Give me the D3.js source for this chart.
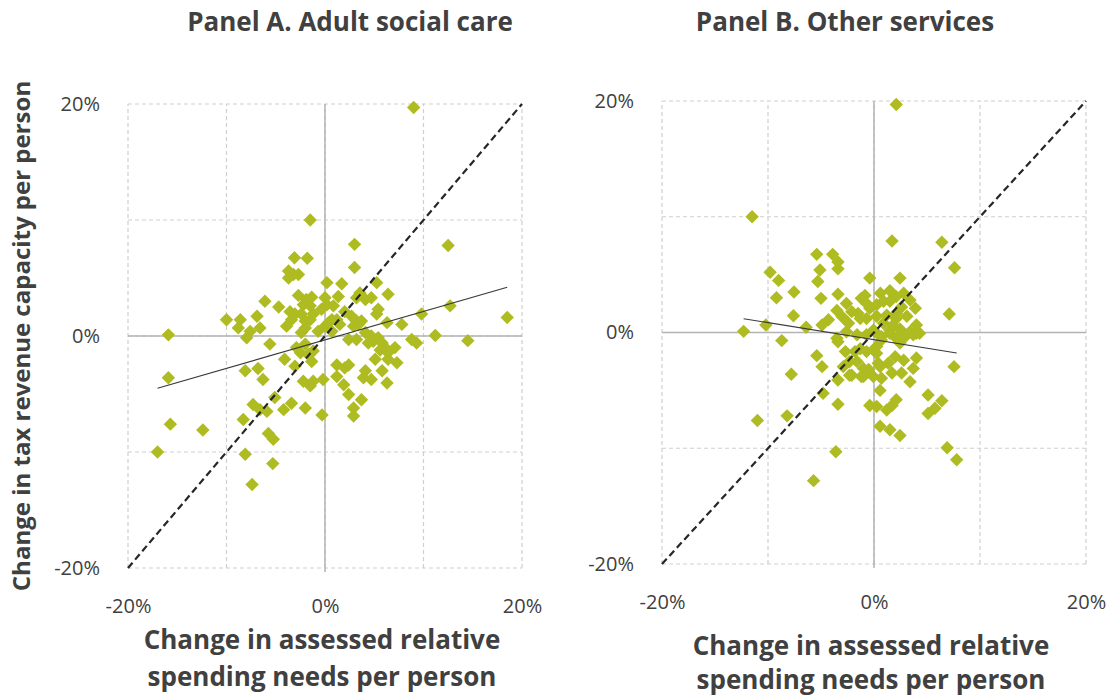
<!DOCTYPE html>
<html>
<head>
<meta charset="utf-8">
<script src="https://cdn.jsdelivr.net/npm/d3@7"></script>
<style>
  body { margin: 0; background: #ffffff; }
  text { font-family: "Open Sans", "Noto Sans", sans-serif; fill: #404040; }
</style>
</head>
<body>
<svg id="chart" width="1114" height="696"></svg>
<script>
// Titles and axis text
const panelTitles = ["Panel A. Adult social care", "Panel B. Other services"];
const xTitleLines = ["Change in assessed relative", "spending needs per person"];
const yTitle = "Change in tax revenue capacity per person";
const gridTicks = [-20, -10, 0, 10, 20];
const labelTicks = [-20, 0, 20];

// [change in assessed relative spending needs %, change in tax revenue capacity %]
const adultCare = [
  [9.0, 19.7], [-1.5, 10.0], [3.0, 7.9], [12.5, 7.8], [-3.1, 6.75], [-1.8, 6.7],
  [3.0, 5.9], [-3.7, 5.6], [-3.2, 5.3], [-2.7, 5.3], [-3.7, 5.0], [0.2, 4.6],
  [1.7, 4.5], [5.25, 4.6], [1.35, 3.4], [3.55, 3.7], [3.2, 3.3], [4.1, 3.15],
  [4.7, 3.3], [6.4, 3.6], [-6.1, 3.0], [-2.7, 3.5], [-1.9, 3.15], [-1.35, 3.35],
  [-2.2, 2.7], [-1.5, 2.6], [0.0, 3.3], [0.2, 2.7], [0.85, 2.6], [-0.35, 2.3],
  [-4.7, 2.5], [2.0, 2.1], [2.7, 1.7], [3.2, 1.3], [3.7, 1.3], [5.4, 2.3],
  [5.25, 1.9], [-3.55, 2.1], [-3.05, 1.9], [-3.4, 1.4], [-2.4, 1.9], [-2.0, 1.3],
  [-1.5, 1.4], [-1.2, 1.9], [-6.9, 1.7], [-8.6, 1.4], [-6.6, 0.7], [-7.6, 0.4],
  [-8.8, 0.7], [-7.95, -0.15], [-10.0, 1.4], [-3.9, 0.85], [-2.0, 0.7], [-2.4, 0.3],
  [-0.7, 0.4], [0.0, 0.85], [0.7, 0.4], [0.35, 1.15], [1.5, 1.0], [1.2, 1.4],
  [0.7, 1.4], [2.9, 0.85], [3.4, 1.0], [6.3, 1.15], [7.8, 1.0], [9.8, 1.9],
  [12.7, 2.6], [11.2, 0.05], [14.5, -0.4], [8.8, -0.3], [9.3, -0.6], [4.1, 0.3],
  [4.7, 0.0], [5.4, -0.15], [4.9, -0.45], [4.4, -0.6], [5.8, -0.6], [6.1, -1.0],
  [7.1, -1.0], [5.6, -1.2], [6.4, -1.45], [2.4, -0.3], [3.2, -0.3], [-5.6, -0.7],
  [-2.0, -0.7], [-2.9, -1.0], [-2.5, -1.45], [-1.7, -1.6], [-1.2, -1.3], [-4.1, -2.0],
  [-3.05, -2.6], [-1.35, -2.2], [-8.1, -3.0], [-6.8, -2.8], [-6.3, -3.75], [1.2, -2.5],
  [2.0, -2.75], [2.4, -2.5], [1.2, -3.5], [4.1, -3.0], [3.9, -3.6], [4.7, -3.75],
  [5.8, -3.0], [6.3, -4.05], [7.3, -2.3], [6.4, -2.0], [5.1, -2.0], [-2.2, -3.9],
  [-1.2, -3.9], [-0.2, -3.75], [-1.5, -4.3], [1.9, -4.2], [2.4, -5.05], [3.7, -5.5],
  [2.9, -6.2], [2.9, -6.9], [-5.1, -5.3], [-3.4, -5.8], [-4.2, -6.35], [-2.0, -6.2],
  [-0.3, -6.8], [-7.3, -5.9], [-6.6, -6.35], [-5.9, -6.5], [-8.3, -7.2], [-5.75, -8.4],
  [-5.25, -8.9], [-8.1, -10.2], [-15.9, 0.1], [-15.9, -3.6], [-15.7, -7.6], [-12.4, -8.1],
  [-17.0, -10.0], [-5.3, -11.0], [-7.4, -12.8], [18.5, 1.6]
];

const otherServices = [
  [2.1, 19.7], [-11.5, 10.0], [-5.4, 6.75], [-3.9, 6.75], [-3.4, 6.1], [-3.4, 5.5],
  [-5.1, 5.4], [-5.3, 4.4], [-9.8, 5.2], [-9.0, 4.5], [-7.55, 3.5], [-9.2, 3.0],
  [-5.0, 2.95], [-3.4, 3.3], [-0.4, 4.7], [-7.6, 1.45], [-6.4, 0.45], [-4.3, 1.1],
  [-4.9, 0.65], [-12.3, 0.1], [-10.2, 0.65], [-3.5, 1.9], [-2.6, 2.5], [-2.1, 1.8],
  [-1.2, 2.95], [-0.7, 2.5], [-1.5, 1.65], [-8.7, -0.7], [-5.4, -2.0], [-4.9, -2.95],
  [-7.8, -3.6], [-3.4, -0.8], [-2.7, -1.65], [-2.3, -2.5], [-2.9, -2.95], [-1.8, -1.65],
  [-3.4, -4.1], [-2.1, -3.7], [-4.8, -5.25], [-3.4, -6.2], [-0.4, -6.3], [-11.0, -7.6],
  [-8.2, -7.2], [-3.6, -10.3], [-5.7, -12.8], [-1.2, -3.8], [-0.5, -3.2], [1.7, 7.9],
  [6.4, 7.8], [7.6, 5.6], [7.1, 1.6], [2.45, 4.7], [0.6, 3.4], [1.5, 3.6],
  [0.9, 2.7], [2.8, 3.4], [3.4, 2.8], [3.9, 2.1], [2.6, 2.2], [2.1, 1.65],
  [3.1, 1.4], [4.0, 0.65], [4.3, -0.07], [0.25, 1.4], [0.9, 0.8], [-0.06, 0.2],
  [1.5, 0.2], [7.55, -2.95], [3.4, -4.25], [0.57, -5.0], [5.1, -5.4], [6.4, -5.9],
  [5.1, -7.0], [5.75, -6.55], [2.1, -5.8], [1.7, -6.3], [1.2, -6.7], [0.25, -6.4],
  [0.57, -8.1], [1.5, -8.4], [2.45, -8.9], [6.9, -9.95], [7.8, -11.0], [0.57, -2.95],
  [1.7, -3.5], [2.6, -3.5], [3.7, -3.1], [4.0, -2.2], [2.8, -2.4], [2.0, -2.1],
  [1.35, -2.65], [-0.06, -3.8], [0.25, -1.8], [1.5, -0.07], [2.8, -0.2], [4.0, -0.07],
  [0.7, -0.65], [-0.06, -1.5], [2.45, -0.9], [2.1, 3.1], [1.5, 2.7], [-0.4, 2.1],
  [0.25, 2.4], [-0.7, 1.2], [-1.3, 1.2], [-2.4, 0.8], [-3.0, 1.35], [1.2, 1.5],
  [2.1, 1.2], [3.4, 0.07], [2.45, 0.3], [1.8, 0.65], [3.7, -0.2], [2.1, -0.5],
  [2.8, -0.5], [-3.5, -0.5], [-2.6, 0.07], [-1.6, -0.2], [-0.7, -0.2], [0.1, 0.07],
  [0.7, -0.36], [-1.3, -1.4], [-0.7, -1.65], [0.25, -1.2], [-2.3, -3.7], [-1.6, -2.5],
  [-1.0, -3.1], [0.4, -2.65], [0.7, -3.95], [-1.0, -3.8], [-0.85, 3.2]
];

const markerColor = "#aebc21";

const svg = d3.select("#chart");

const panels = [
  { data: adultCare, title: panelTitles[0], titleX: 350,
    left: 128, right: 522, top: 104, bottom: 568, xTitleY: 649, xTitleGap: 37 },
  { data: otherServices, title: panelTitles[1], titleX: 845,
    left: 662, right: 1086, top: 101, bottom: 564, xTitleY: 655, xTitleGap: 34 }
];

// Ordinary least squares fit of y on x
function fitLine(pts) {
  const mx = d3.mean(pts, d => d[0]);
  const my = d3.mean(pts, d => d[1]);
  let sxy = 0, sxx = 0;
  pts.forEach(([a, b]) => { sxy += (a - mx) * (b - my); sxx += (a - mx) * (a - mx); });
  const slope = sxy / sxx;
  return { slope, intercept: my - slope * mx };
}

const pct = d => d + "%";

panels.forEach(p => {
  const x = d3.scaleLinear().domain([-20, 20]).range([p.left, p.right]);
  const y = d3.scaleLinear().domain([-20, 20]).range([p.bottom, p.top]);
  const g = svg.append("g");

  // dashed gridlines
  g.append("g").selectAll("line").data(gridTicks).join("line")
    .attr("x1", d => x(d)).attr("x2", d => x(d))
    .attr("y1", y(-20)).attr("y2", y(20))
    .attr("stroke", "#cfcfcf").attr("stroke-width", 1.2)
    .attr("stroke-dasharray", "4,3");
  g.append("g").selectAll("line").data(gridTicks).join("line")
    .attr("y1", d => y(d)).attr("y2", d => y(d))
    .attr("x1", x(-20)).attr("x2", x(20))
    .attr("stroke", "#cfcfcf").attr("stroke-width", 1.2)
    .attr("stroke-dasharray", "4,3");

  // zero axes
  g.append("line").attr("x1", x(0)).attr("x2", x(0)).attr("y1", y(20)).attr("y2", y(-20) + 4)
    .attr("stroke", "#b3b3b3").attr("stroke-width", 1.5);
  g.append("line").attr("x1", x(-20)).attr("x2", x(20)).attr("y1", y(0)).attr("y2", y(0))
    .attr("stroke", "#b3b3b3").attr("stroke-width", 1.5);

  // tick labels
  const xa = g.append("g").attr("transform", `translate(0,${p.bottom})`)
    .call(d3.axisBottom(x).tickValues(labelTicks).tickSize(0).tickPadding(31).tickFormat(pct));
  const ya = g.append("g").attr("transform", `translate(${p.left},0)`)
    .call(d3.axisLeft(y).tickValues(labelTicks).tickSize(0).tickPadding(28).tickFormat(pct));
  [xa, ya].forEach(a => {
    a.select(".domain").remove();
    a.selectAll("text").attr("font-size", 20).attr("fill", "#404040")
      .attr("font-family", '"Open Sans", "Noto Sans", sans-serif');
  });

  // points
  g.append("g").selectAll("path").data(p.data).join("path")
    .attr("d", d3.symbol(d3.symbolSquare, 90)())
    .attr("transform", d => `translate(${x(d[0])},${y(d[1])}) rotate(45)`)
    .attr("fill", markerColor);

  // 45-degree reference line
  g.append("line")
    .attr("x1", x(-20)).attr("y1", y(-20)).attr("x2", x(20)).attr("y2", y(20))
    .attr("stroke", "#262626").attr("stroke-width", 2.2).attr("stroke-dasharray", "7,4");

  // linear trend over the data's range
  const fit = fitLine(p.data);
  const [xmin, xmax] = d3.extent(p.data, d => d[0]);
  g.append("line")
    .attr("x1", x(xmin)).attr("y1", y(fit.intercept + fit.slope * xmin))
    .attr("x2", x(xmax)).attr("y2", y(fit.intercept + fit.slope * xmax))
    .attr("stroke", "#3a3a3a").attr("stroke-width", 1.2);

  // panel title
  svg.append("text").attr("x", p.titleX).attr("y", 31).attr("text-anchor", "middle")
    .attr("font-size", 26).attr("font-weight", 700).text(p.title);

  // x-axis title (two lines)
  const xc = (p.left + p.right) / 2 - 3;
  xTitleLines.forEach((line, i) => {
    svg.append("text").attr("x", xc).attr("y", p.xTitleY + i * p.xTitleGap)
      .attr("text-anchor", "middle").attr("font-size", 26).attr("font-weight", 700).text(line);
  });
});

// y-axis title
svg.append("text")
  .attr("transform", "translate(30,336) rotate(-90)")
  .attr("text-anchor", "middle").attr("font-size", 24).attr("font-weight", 700)
  .text(yTitle);
</script>
</body>
</html>
